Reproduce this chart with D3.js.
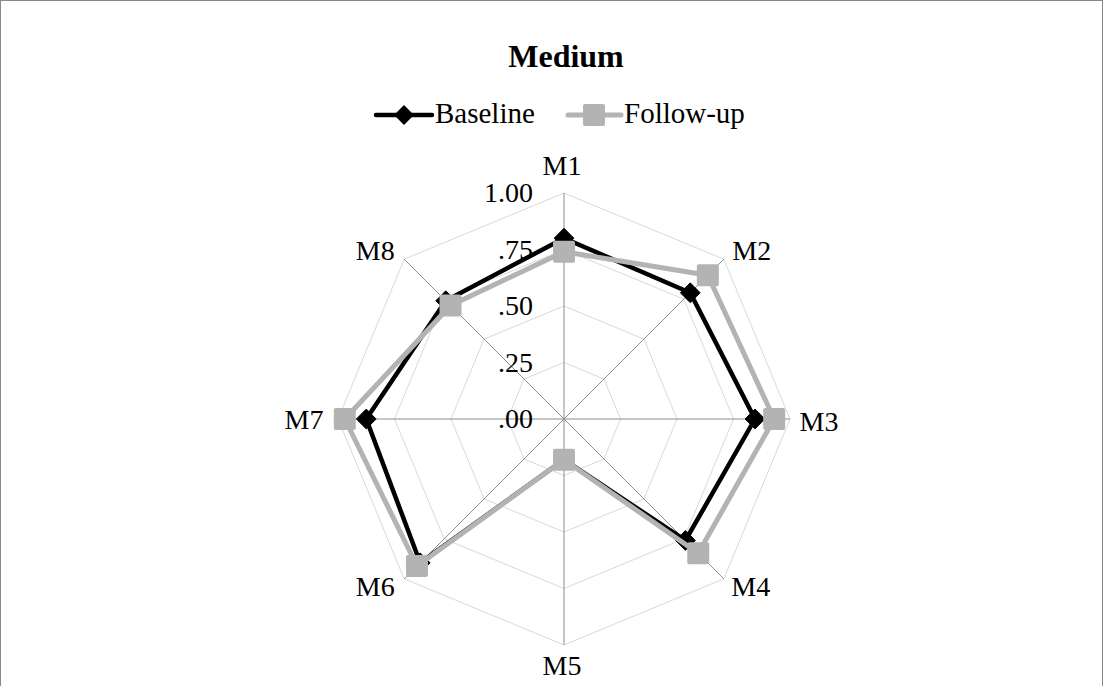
<!DOCTYPE html>
<html>
<head>
<meta charset="utf-8">
<script src="https://cdn.jsdelivr.net/npm/d3@7"></script>
<style>
  body { margin: 0; background: #fff; }
  text { font-family: "Liberation Serif", "Times New Roman", serif; fill: #000; }
</style>
</head>
<body>
<div id="chart"></div>
<script>
// Chart data
var categories = ["M1", "M2", "M3", "M4", "M5", "M6", "M7", "M8"]
var baseline = [0.80, 0.79, 0.845, 0.76, 0.18, 0.90, 0.875, 0.74]
var followUp = [0.74, 0.90, 0.93, 0.84, 0.18, 0.92, 0.97, 0.71]
var tickValues = [0, 0.25, 0.5, 0.75, 1]
var tickLabels = [".00", ".25", ".50", ".75", "1.00"]
var seriesNames = ["Baseline", "Follow-up"]

var width = 1104
var height = 686
var cx = 564, cy = 419
var radius = 226

var svg = d3.select("#chart").append("svg")
    .attr("width", width)
    .attr("height", height)

// outer frame
svg.append("rect")
    .attr("x", 0.5).attr("y", 0.5)
    .attr("width", width - 2).attr("height", height + 10)
    .attr("fill", "none")
    .attr("stroke", "#888")

svg.append("text")
    .attr("x", 566).attr("y", 67)
    .attr("text-anchor", "middle")
    .style("font-size", "32px")
    .style("font-weight", "bold")
    .text("Medium")

var r = d3.scaleLinear().domain([0, 1]).range([0, radius])
var angle = d3.scalePoint().domain(categories).range([0, 2 * Math.PI * 7 / 8])

function pt (cat, v) {
    var a = angle(cat)
    return [cx + r(v) * Math.sin(a), cy - r(v) * Math.cos(a)]
}

var g = svg.append("g")

// grid rings
tickValues.slice(1).forEach(function (t) {
    g.append("polygon")
        .attr("points", categories.map(c => pt(c, t).join(",")).join(" "))
        .attr("fill", "none")
        .attr("stroke", "#d9d9d9")
        .attr("stroke-width", 1)
})

// spokes
categories.forEach(function (c) {
    var p = pt(c, 1)
    g.append("line")
        .attr("x1", cx).attr("y1", cy)
        .attr("x2", p[0]).attr("y2", p[1])
        .attr("stroke", "#8c8c8c")
        .attr("stroke-width", 1)
})

// tick labels
tickValues.forEach(function (t, i) {
    g.append("text")
        .attr("x", cx - 31)
        .attr("y", cy - r(t) + 9)
        .attr("text-anchor", "end")
        .style("font-size", "28px")
        .text(tickLabels[i])
})

// category labels
var labelOffset = { M1: [-2, -18], M2: [28, 1], M3: [29, 12], M4: [27, 17], M5: [-2, 30], M6: [-29, 17], M7: [-34, 10], M8: [-29, 1] }
categories.forEach(function (c) {
    var p = pt(c, 1)
    var o = labelOffset[c]
    g.append("text")
        .attr("x", p[0] + o[0])
        .attr("y", p[1] + o[1])
        .attr("text-anchor", "middle")
        .style("font-size", "28px")
        .text(c)
})

var line = d3.lineRadial()
    .angle((d, i) => angle(categories[i]))
    .radius(d => r(d))
    .curve(d3.curveLinearClosed)

var diamond = d3.symbol().type(d3.symbolDiamond2).size(250)

function drawSeries (values, color, widthPx, marker) {
    var sg = g.append("g").attr("transform", `translate(${cx},${cy})`)
    sg.append("path")
        .attr("d", line(values))
        .attr("fill", "none")
        .attr("stroke", color)
        .attr("stroke-width", widthPx)
        .attr("stroke-linejoin", "round")
    values.forEach(function (v, i) {
        var a = angle(categories[i])
        var x = r(v) * Math.sin(a), y = -r(v) * Math.cos(a)
        if (marker === "diamond") {
            sg.append("path")
                .attr("d", diamond())
                .attr("transform", `translate(${x},${y})`)
                .attr("fill", color)
                .attr("stroke", color)
                .attr("stroke-width", 1)
                .attr("stroke-linejoin", "round")
        } else {
            sg.append("rect")
                .attr("x", x - 11).attr("y", y - 11)
                .attr("width", 22).attr("height", 22)
                .attr("rx", 2)
                .attr("fill", color)
        }
    })
}

drawSeries(baseline, "#000", 4.5, "diamond")
drawSeries(followUp, "#b3b3b3", 5, "square")

// legend
var legend = svg.append("g")
var lg0 = legend.append("g")
lg0.append("line").attr("x1", 376).attr("x2", 432).attr("y1", 115).attr("y2", 115)
    .attr("stroke", "#000").attr("stroke-width", 4.5).attr("stroke-linecap", "round")
lg0.append("path").attr("d", diamond()).attr("transform", "translate(404,115)").attr("fill", "#000")
lg0.append("text").attr("x", 435).attr("y", 123).style("font-size", "29px").text(seriesNames[0])

var lg1 = legend.append("g")
lg1.append("line").attr("x1", 568).attr("x2", 621).attr("y1", 115).attr("y2", 115)
    .attr("stroke", "#b3b3b3").attr("stroke-width", 5).attr("stroke-linecap", "round")
lg1.append("rect").attr("x", 583).attr("y", 104).attr("width", 22).attr("height", 22).attr("rx", 2).attr("fill", "#b3b3b3")
lg1.append("text").attr("x", 624).attr("y", 123).style("font-size", "29px").text(seriesNames[1])
</script>
</body>
</html>
